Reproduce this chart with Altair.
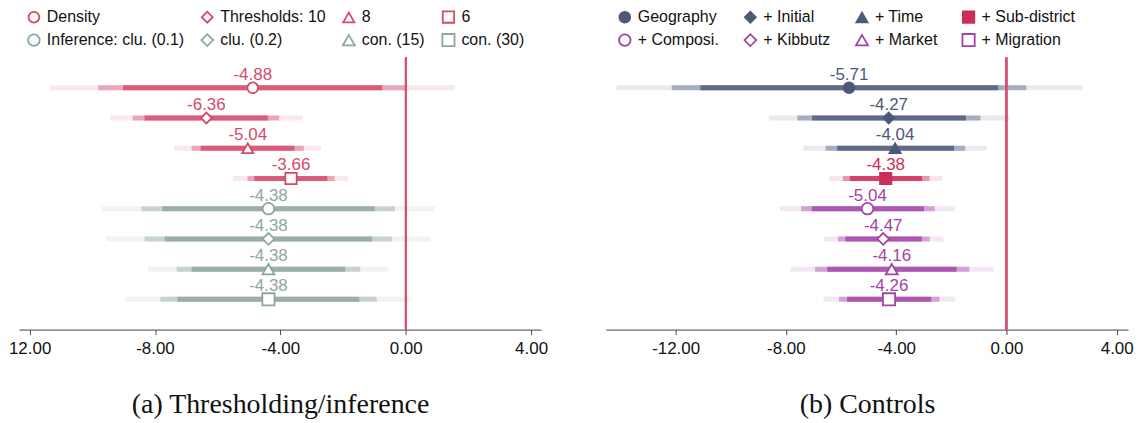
import altair as alt
import pandas as pd

# ---------------- Panel (a): Thresholding / inference ----------------
a_series = ["Density", "Thresholds: 10", "8", "6",
            "Inference: clu. (0.1)", "clu. (0.2)", "con. (15)", "con. (30)"]
a_est = [-4.88, -6.36, -5.04, -3.66, -4.38, -4.38, -4.38, -4.38]
a_lo90 = [-9.02, -8.33, -6.54, -4.83, -7.77, -7.69, -6.83, -7.28]
a_hi90 = [-0.75, -4.40, -3.55, -2.50, -0.99, -1.07, -1.93, -1.48]
a_lo95 = [-9.81, -8.71, -6.83, -5.05, -8.43, -8.33, -7.31, -7.83]
a_hi95 = [0.02, -4.04, -3.25, -2.27, -0.34, -0.43, -1.45, -0.93]
a_lo99 = [-11.35, -9.43, -7.38, -5.50, -9.69, -9.56, -8.22, -8.93]
a_hi99 = [1.57, -3.30, -2.70, -1.84, 0.92, 0.79, -0.55, 0.15]

# ---------------- Panel (b): Controls ----------------
b_series = ["Geography", "+ Initial", "+ Time", "+ Sub-district",
            "+ Composi.", "+ Kibbutz", "+ Market", "+ Migration"]
b_est = [-5.71, -4.27, -4.04, -4.38, -5.04, -4.47, -4.16, -4.26]
b_lo90 = [-11.10, -7.05, -6.14, -5.68, -7.06, -5.84, -6.50, -5.78]
b_hi90 = [-0.30, -1.47, -1.90, -3.06, -2.99, -3.07, -1.81, -2.73]
b_lo95 = [-12.14, -7.58, -6.56, -5.93, -7.45, -6.11, -6.94, -6.07]
b_hi95 = [0.72, -0.94, -1.50, -2.79, -2.60, -2.79, -1.35, -2.43]
b_lo99 = [-14.14, -8.62, -7.37, -6.42, -8.21, -6.63, -7.82, -6.63]
b_hi99 = [2.75, 0.10, -0.71, -2.33, -1.86, -2.29, -0.47, -1.86]

tick_values = [-12, -8, -4, 0, 4]

# ---------------- styles ----------------
RED_A = "#d44a6e"
SAGE = "#8fa69d"
SLATE = "#4e597a"
RED_B = "#cd2d59"
PURPLE = "#a244a7"
WHITE = "#ffffff"
ZERO = "#d5506f"
SANS = "Liberation Sans"
SERIF = "Liberation Serif"

a_colors = [RED_A] * 4 + [SAGE] * 4
a_fills = [WHITE] * 8
b_colors = [SLATE] * 3 + [RED_B] + [PURPLE] * 4
b_fills = [SLATE] * 3 + [RED_B] + [WHITE] * 4
shapes = ["circle", "diamond", "triangle-up", "square"] * 2
sizes = [115, 150, 100, 105] * 2


def panel(series, est, lo90, hi90, lo95, hi95, lo99, hi99,
          colors, fills, domain, caption, label_expr, colpad, legx):
    rows = list(range(1, len(series) + 1))
    df = pd.DataFrame({
        "series": series,
        "pos": rows,
        "est": est,
        "lo90": lo90, "hi90": hi90,
        "lo95": lo95, "hi95": hi95,
        "lo99": lo99, "hi99": hi99,
        "label": [f"{v:.2f}" for v in est],
    })

    axis = alt.Axis(values=tick_values, labelExpr=label_expr, grid=False,
                    labelFont=SANS, labelFontSize=17, labelColor="#111111",
                    labelPadding=6, tickSize=5, tickColor="#444444",
                    domainColor="#444444", labelFlush=False,
                    title=caption, titleFont=SERIF, titleFontSize=28,
                    titleFontWeight="normal", titleColor="#111111",
                    titleY=61, titleBaseline="top")
    xscale = alt.Scale(domain=domain, nice=False, zero=False)
    yenc = alt.Y("pos:Q", scale=alt.Scale(domain=[0, 9], reverse=True,
                                          nice=False, zero=False), axis=None)
    # colour of bars / labels keyed by row number (kept apart from the legend scales)
    cscale = alt.Scale(domain=rows, range=colors)
    leg = alt.Legend(orient="none", legendX=legx, legendY=-49, columns=4,
                     direction="horizontal", title=None, labelFont=SANS,
                     labelFontSize=16, labelColor="#111111",
                     symbolStrokeWidth=1.8, columnPadding=colpad,
                     rowPadding=3.5, labelOffset=5, padding=0)

    base = alt.Chart(df)

    def ci(lo, hi, op):
        return base.mark_rule(strokeWidth=5, opacity=op).encode(
            x=alt.X(f"{lo}:Q", scale=xscale, axis=axis),
            x2=f"{hi}:Q",
            y=yenc,
            color=alt.Color("pos:O", scale=cscale, legend=None),
        )

    thin = ci("lo99", "hi99", 0.13)
    med = ci("lo95", "hi95", 0.42)
    thick = ci("lo90", "hi90", 0.8)

    zero = alt.Chart(df).mark_rule(color=ZERO, strokeWidth=1.5).encode(
        x=alt.datum(0, scale=xscale, axis=axis)
    )

    pts = base.mark_point(strokeWidth=1.8, opacity=1, filled=True).encode(
        x=alt.X("est:Q", scale=xscale, axis=axis),
        y=yenc,
        shape=alt.Shape("series:N", scale=alt.Scale(domain=series, range=shapes), legend=leg),
        stroke=alt.Stroke("series:N", scale=alt.Scale(domain=series, range=colors), legend=leg),
        fill=alt.Fill("series:N", scale=alt.Scale(domain=series, range=fills), legend=leg),
        size=alt.Size("series:N", scale=alt.Scale(domain=series, range=sizes), legend=leg),
    )

    txt = base.mark_text(dy=-8, baseline="alphabetic", fontSize=17, font=SANS).encode(
        x=alt.X("est:Q", scale=xscale, axis=axis),
        y=yenc,
        text="label:N",
        color=alt.Color("pos:O", scale=cscale, legend=None),
    )

    return alt.layer(thin, med, thick, zero, txt, pts).properties(width=524, height=273)


fmt = "(datum.value < 0 ? '-' : '') + format(abs(datum.value), '.2f')"
left = panel(a_series, a_est, a_lo90, a_hi90, a_lo95, a_hi95, a_lo99, a_hi99,
             a_colors, a_fills, [-12.34, 4.32], "(a)  Thresholding/inference",
             "datum.value == -12 ? '12.00' : " + fmt, 13, 7)
right = panel(b_series, b_est, b_lo90, b_hi90, b_lo95, b_hi95, b_lo99, b_hi99,
              b_colors, b_fills, [-14.53, 4.41], "(b)  Controls", fmt, 21, 11)

chart = alt.hconcat(left, right, spacing=58).resolve_scale(
    color="independent", stroke="independent", fill="independent",
    shape="independent", size="independent", x="independent"
).resolve_legend(
    color="independent", stroke="independent", fill="independent",
    shape="independent", size="independent"
).properties(
    padding={"left": 0, "top": 0, "right": 0, "bottom": 0}
).configure_view(stroke=None)

chart.save("out.html", embed_options={"renderer": "svg", "actions": False})
